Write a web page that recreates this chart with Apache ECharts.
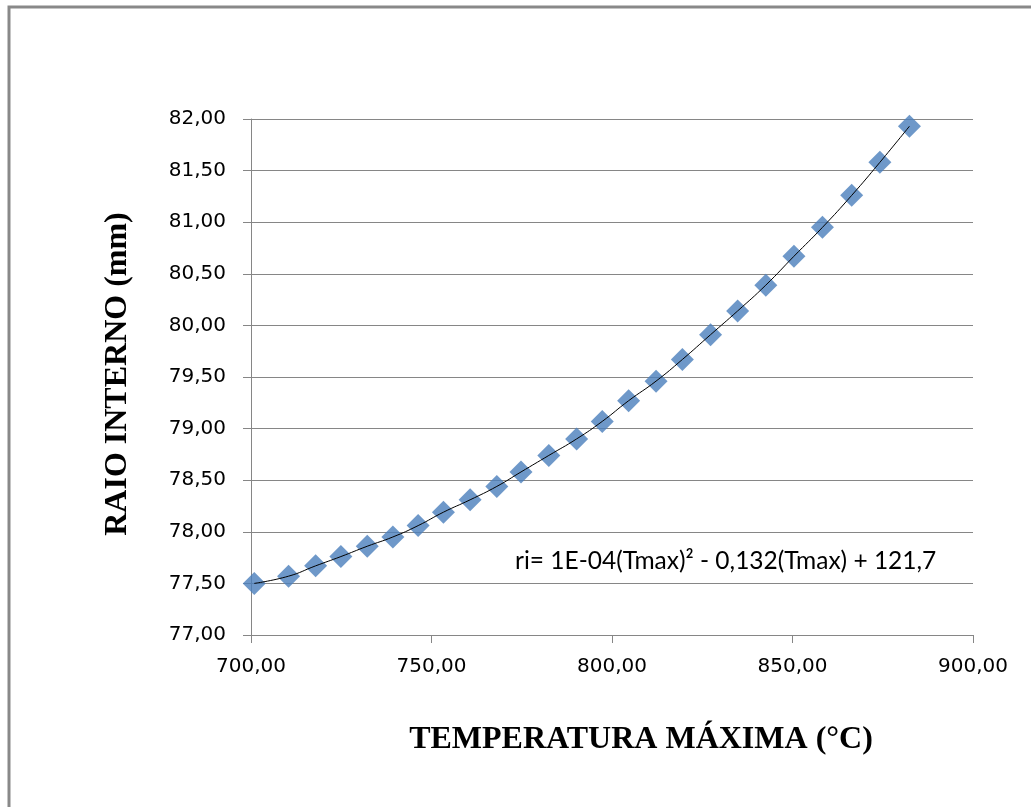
<!DOCTYPE html>
<html>
<head>
<meta charset="utf-8">
<script src="https://cdn.jsdelivr.net/npm/echarts@6/dist/echarts.min.js"></script>
<style>
  html, body { margin: 0; padding: 0; background: #ffffff; }
  #chart { width: 1031px; height: 807px; }
</style>
</head>
<body>
<div id="chart"></div>
<script>
// Maximum temperature (°C) and the matching inner radius (mm)
const tempMax = [700.9, 710.4, 717.9, 724.9, 732.2, 739.3, 746.3, 753.3, 760.7, 768.1,
                 774.8, 782.5, 790.2, 797.3, 804.6, 812.2, 819.5, 827.3, 834.8, 842.6,
                 850.4, 858.3, 866.4, 874.2, 882.4];
const raioInterno = [77.50, 77.57, 77.67, 77.76, 77.86, 77.95, 78.06, 78.19, 78.31, 78.44,
                     78.58, 78.74, 78.90, 79.07, 79.27, 79.46, 79.67, 79.91, 80.14, 80.39,
                     80.67, 80.95, 81.26, 81.58, 81.93];

const xTitle = 'TEMPERATURA MÁXIMA (°C)';
const yTitle = 'RAIO INTERNO (mm)';
const equation = 'ri= 1E-04(Tmax)² - 0,132(Tmax) + 121,7';

const points = tempMax.map((t, i) => [t, raioInterno[i]]);
const fmt = v => v.toFixed(2).replace('.', ',');

const chart = echarts.init(document.getElementById('chart'), null, { renderer: 'canvas' });
chart.setOption({
  animation: false,
  backgroundColor: '#ffffff',
  grid: { left: 251, right: 58, top: 119, bottom: 172, containLabel: false },
  xAxis: {
    type: 'value', min: 700, max: 900, interval: 50,
    axisLine: { show: true, lineStyle: { color: '#868686', width: 1 } },
    axisTick: { show: true, length: 8, lineStyle: { color: '#868686' } },
    splitLine: { show: false },
    axisLabel: { margin: 22, color: '#000', fontFamily: 'DejaVu Sans', fontSize: 20, formatter: fmt }
  },
  yAxis: {
    type: 'value', min: 77, max: 82, interval: 0.5,
    axisLine: { show: true, lineStyle: { color: '#868686', width: 1 } },
    axisTick: { show: true, length: 8, lineStyle: { color: '#868686' } },
    splitLine: { show: true, lineStyle: { color: '#868686', width: 1 } },
    axisLabel: { margin: 25, color: '#000', fontFamily: 'DejaVu Sans', fontSize: 20, formatter: fmt }
  },
  series: [
    {
      type: 'scatter',
      data: points,
      symbol: 'diamond',
      symbolSize: 23,
      itemStyle: { color: '#4a7ebb' },
      z: 2
    },
    {
      // polynomial trend line drawn through the measured points
      type: 'line',
      data: points,
      smooth: true,
      showSymbol: false,
      lineStyle: { color: '#000000', width: 1 },
      z: 3
    }
  ],
  graphic: [
    {
      type: 'rect',
      shape: { x: 9, y: 7, width: 1200, height: 1000 },
      style: { fill: 'none', stroke: '#898989', lineWidth: 3 },
      silent: true
    },
    {
      type: 'text',
      x: 515, y: 561,
      style: { text: equation, fontFamily: 'Lato', fontSize: 24.5, fill: '#000',
               verticalAlign: 'middle' }
    },
    {
      type: 'text',
      x: 641, y: 740,
      style: { text: xTitle, fontFamily: 'Liberation Serif', fontWeight: 'bold', fontSize: 32,
               fill: '#000', align: 'center', verticalAlign: 'middle' }
    },
    {
      type: 'text',
      x: 118, y: 374,
      rotation: Math.PI / 2,
      style: { text: yTitle, fontFamily: 'Liberation Serif', fontWeight: 'bold', fontSize: 32,
               fill: '#000', align: 'center', verticalAlign: 'middle' }
    }
  ]
});
</script>
</body>
</html>
